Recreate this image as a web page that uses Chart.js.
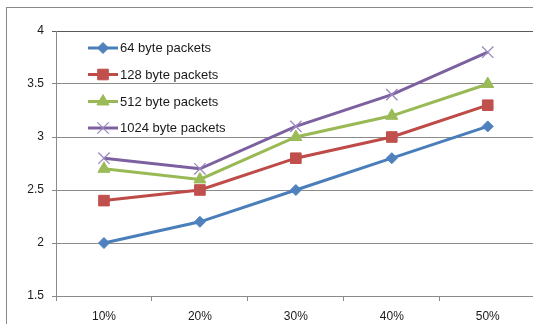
<!DOCTYPE html>
<html>
<head>
<meta charset="utf-8">
<script src="https://cdn.jsdelivr.net/npm/chart.js@4/dist/chart.umd.min.js"></script>
<style>
  html, body { margin: 0; padding: 0; background: #fff; overflow: hidden; width: 533px; height: 324px; }
  #frame { position: absolute; left: 6px; top: 7px; width: 700px; height: 500px; border-left: 1px solid #8a8a8a; border-top: 1px solid #8a8a8a; }
  #c { position: absolute; left: 0; top: 0; }
</style>
</head>
<body>
<div id="frame"></div>
<canvas id="c" width="545" height="330"></canvas>
<script>
const categories = ['10%', '20%', '30%', '40%', '50%'];
const seriesNames = ['64 byte packets', '128 byte packets', '512 byte packets', '1024 byte packets'];
const s64   = [2.0, 2.2, 2.5, 2.8, 3.1];
const s128  = [2.4, 2.5, 2.8, 3.0, 3.3];
const s512  = [2.7, 2.6, 3.0, 3.2, 3.5];
const s1024 = [2.8, 2.7, 3.1, 3.4, 3.8];
const yTicks = [1.5, 2, 2.5, 3, 3.5, 4];
const yTickLabels = ['1.5', '2', '2.5', '3', '3.5', '4'];

const lineColors = ['#4A7EBB', '#BE4B48', '#98B954', '#7D60A0'];
const markerFill = ['#4F81BD', '#C0504D', '#9BBB59', '#9C88C0'];
const markerStyle = ['rectRot', 'rect', 'triangle', 'crossRot'];
const markerRadius = [5.5, 7.5, 7, 8];

const seriesData = [s64, s128, s512, s1024];
const datasets = seriesData.map((d, i) => ({
  label: seriesNames[i],
  data: d,
  borderColor: lineColors[i],
  borderWidth: 3,
  pointStyle: markerStyle[i],
  pointRadius: markerRadius[i],
  pointBackgroundColor: markerFill[i],
  pointBorderColor: markerFill[i],
  pointBorderWidth: i === 3 ? 1.3 : 1,
  tension: 0,
  fill: false,
  order: 4 - i
}));

const FONT = '"Liberation Sans", Arial, sans-serif';

const legendPlugin = {
  id: 'insideLegend',
  afterDraw(chart) {
    const ctx = chart.ctx;
    const rows = [48, 74.5, 101.5, 128];
    ctx.save();
    chart.data.datasets.forEach((ds, i) => {
      const y = rows[i];
      ctx.strokeStyle = ds.borderColor;
      ctx.lineWidth = 3;
      ctx.beginPath();
      ctx.moveTo(88, y);
      ctx.lineTo(118, y);
      ctx.stroke();
      ctx.fillStyle = ds.pointBackgroundColor;
      ctx.strokeStyle = ds.pointBorderColor;
      ctx.lineWidth = ds.pointBorderWidth;
      Chart.helpers.drawPoint(ctx, { pointStyle: ds.pointStyle, radius: ds.pointRadius, rotation: 0, borderWidth: ds.pointBorderWidth }, 103, y);
      ctx.fillStyle = '#1a1a1a';
      ctx.font = '13px ' + FONT;
      ctx.textBaseline = 'middle';
      ctx.textAlign = 'left';
      ctx.fillText(ds.label, 120, y + 0.5);
    });
    ctx.restore();
  }
};

new Chart(document.getElementById('c'), {
  type: 'line',
  data: { labels: categories, datasets },
  options: {
    responsive: false,
    animation: false,
    devicePixelRatio: 1,
    layout: { padding: { left: 0, top: 31, right: 8, bottom: 0 } },
    plugins: { legend: { display: false }, tooltip: { enabled: false } },
    scales: {
      x: {
        offset: true,
        grid: { display: true, offset: true, drawOnChartArea: false, drawTicks: true, tickLength: 5, color: '#8a8a8a' },
        border: { display: true, color: '#8a8a8a', width: 1 },
        ticks: { color: '#1a1a1a', font: { family: FONT, size: 12 }, padding: 8, maxRotation: 0 },
        afterFit(s) { s.height = 34; }
      },
      y: {
        min: 1.5, max: 4,
        afterBuildTicks(s) { s.ticks = yTicks.map(v => ({ value: v })); },
        grid: {
          color: (c) => (c.tick && c.tick.value === 4) ? '#5a5a5a' : '#8a8a8a',
          tickLength: 4, drawTicks: true
        },
        border: { display: true, color: '#8a8a8a', width: 1 },
        ticks: {
          color: '#1a1a1a', font: { family: FONT, size: 12 }, padding: 8,
          callback: (v) => { const k = yTicks.indexOf(v); return k >= 0 ? yTickLabels[k] : String(v); }
        },
        afterFit(s) { s.width = 56; }
      }
    }
  },
  plugins: [legendPlugin]
});
</script>
</body>
</html>
